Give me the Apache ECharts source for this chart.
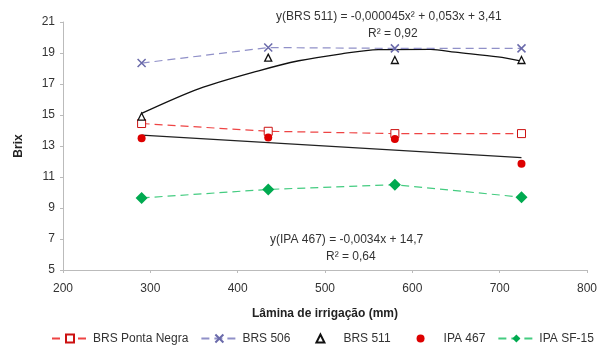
<!DOCTYPE html>
<html>
<head>
<meta charset="utf-8">
<script src="https://cdn.jsdelivr.net/npm/echarts@6/dist/echarts.min.js"></script>
<style>
	body{margin:0;background:#fff;}
	#chart{width:600px;height:354px;}
</style>
</head>
<body>
<div id="chart"></div>
<script>
	// lâminas de irrigação (mm)
	var laminas = [290, 435, 580, 725];
	var pontaNegra = [14.45, 13.95, 13.8, 13.8];
	var brs506 = [18.35, 19.35, 19.3, 19.3];
	var brs511 = [14.9, 18.7, 18.55, 18.55];
	var ipa467 = [13.5, 13.55, 13.45, 11.85];
	var ipaSF15 = [9.65, 10.2, 10.5, 9.7];
	// curvas de tendência
	var trend511X = [290, 356, 424, 470, 519, 561, 621, 649, 698, 725];
	var trend511Y = [15.1, 16.7, 17.85, 18.5, 18.95, 19.22, 19.24, 19.05, 18.75, 18.48];
	var trend467X = [290, 725];
	var trend467Y = [13.7, 12.25];
	var yTicks = [5, 7, 9, 11, 13, 15, 17, 19, 21];

	function pares(xs, ys){
		var out = [];
		for (var i = 0; i < xs.length; i++) out.push([xs[i], ys[i]]);
		return out;
	}

	var chart = echarts.init(document.getElementById('chart'));
	var fonte = 'Liberation Sans';
	var option = {
		animation: false,
		textStyle: {fontFamily: fonte},
		grid: {left: 63, right: 10, top: 22, bottom: 84},
		legend: {
			bottom: 4, left: 46,
			itemWidth: 36, itemHeight: 10, itemGap: 12,
			textStyle: {fontSize: 12, color: '#333', fontFamily: fonte},
			data: ['BRS Ponta Negra', 'BRS 506', 'BRS 511', 'IPA 467', 'IPA SF-15']
		},
		xAxis: {
			type: 'value', min: 200, max: 800, interval: 100,
			name: 'Lâmina de irrigação (mm)', nameLocation: 'middle', nameGap: 38,
			nameTextStyle: {fontWeight: 'bold', fontSize: 12, color: '#222'},
			axisLine: {lineStyle: {color: '#bbb'}},
			axisTick: {show: true, length: 3, lineStyle: {color: '#bbb'}},
			axisLabel: {color: '#333', fontSize: 12, margin: 13},
			splitLine: {show: false}
		},
		yAxis: {
			type: 'value', min: yTicks[0], max: yTicks[yTicks.length - 1], interval: 2,
			name: 'Brix', nameLocation: 'middle', nameGap: 38, nameRotate: 90,
			nameTextStyle: {fontWeight: 'bold', fontSize: 12, color: '#222'},
			axisLine: {show: true, lineStyle: {color: '#bbb'}},
			axisTick: {show: true, length: 3, lineStyle: {color: '#bbb'}},
			axisLabel: {color: '#333', fontSize: 12, margin: 8},
			splitLine: {show: false}
		},
		series: [
			{
				name: 'BRS 511 tendência', type: 'line', smooth: 0.3, symbol: 'none',
				lineStyle: {color: '#111', width: 1.3}, z: 1,
				data: pares(trend511X, trend511Y)
			},
			{
				name: 'IPA 467 tendência', type: 'line', symbol: 'none',
				lineStyle: {color: '#222', width: 1.3}, z: 1,
				data: pares(trend467X, trend467Y)
			},
			{
				name: 'BRS Ponta Negra', type: 'line', symbol: 'rect', symbolSize: 8,
				lineStyle: {color: '#ee4444', width: 1.2, type: [8, 5]},
				itemStyle: {color: '#fff', borderColor: '#cc1111', borderWidth: 1},
				data: pares(laminas, pontaNegra)
			},
			{
				name: 'BRS 506', type: 'line',
				symbol: 'path://M0,0L10,10M10,0L0,10', symbolSize: 8,
				lineStyle: {color: '#9090c8', width: 1.2, type: [8, 5]},
				itemStyle: {color: 'none', borderColor: '#6a6aaa', borderWidth: 1.5},
				data: pares(laminas, brs506)
			},
			{
				name: 'BRS 511', type: 'line', symbol: 'triangle', symbolSize: 7,
				lineStyle: {opacity: 0, width: 0},
				itemStyle: {color: '#fff', borderColor: '#111', borderWidth: 1.3},
				data: pares(laminas, brs511)
			},
			{
				name: 'IPA 467', type: 'line', symbol: 'circle', symbolSize: 8,
				lineStyle: {opacity: 0, width: 0},
				itemStyle: {color: '#dd0000'},
				data: pares(laminas, ipa467)
			},
			{
				name: 'IPA SF-15', type: 'line', symbol: 'diamond', symbolSize: 12,
				lineStyle: {color: '#44cc80', width: 1.2, type: [8, 5]},
				itemStyle: {color: '#00aa50'},
				data: pares(laminas, ipaSF15)
			}
		],
		graphic: [
			{type: 'text', left: 276, top: 11, style: {text: 'y(BRS 511) = -0,000045x² + 0,053x + 3,41', font: '12px ' + fonte, fill: '#333'}},
			{type: 'text', left: 368, top: 28, style: {text: 'R² = 0,92', font: '12px ' + fonte, fill: '#333'}},
			{type: 'text', left: 270, top: 234, style: {text: 'y(IPA 467) = -0,0034x + 14,7', font: '12px ' + fonte, fill: '#333'}},
			{type: 'text', left: 326, top: 251, style: {text: 'R² = 0,64', font: '12px ' + fonte, fill: '#333'}}
		]
	};
	chart.setOption(option);
</script>
</body>
</html>
